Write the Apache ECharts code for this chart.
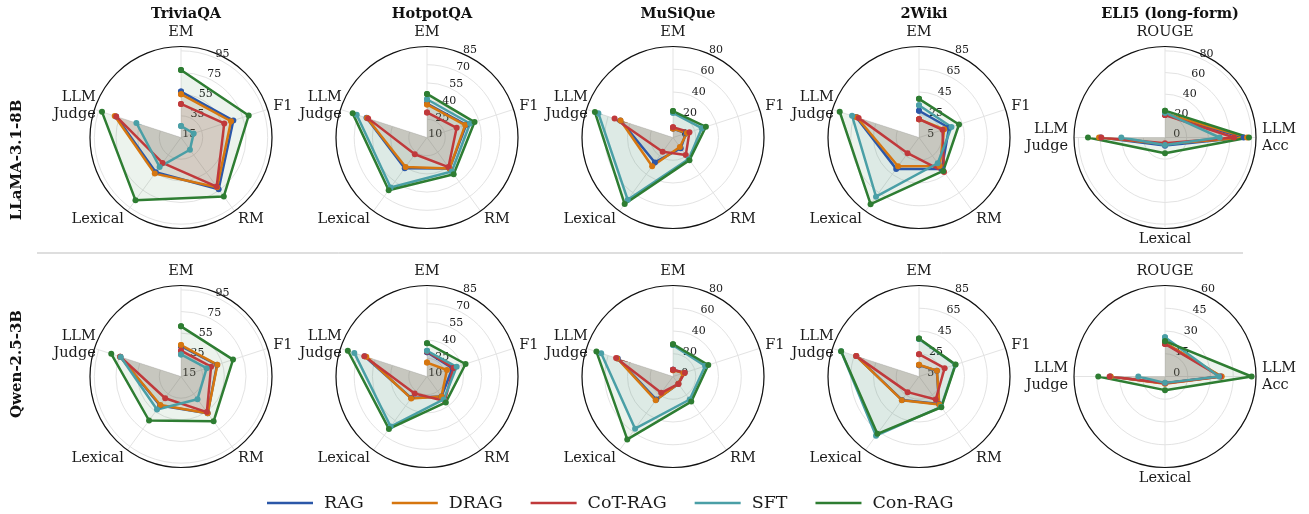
<!DOCTYPE html>
<html>
<head>
<meta charset="utf-8">
<script src="https://cdn.jsdelivr.net/npm/echarts@6/dist/echarts.min.js"></script>
<style>
  html, body { margin: 0; padding: 0; background: #fff; }
  #chart { width: 1309px; height: 514px; }
</style>
</head>
<body>
<div id="chart"></div>
<script>
var methods = ['RAG', 'DRAG', 'CoT-RAG', 'SFT', 'Con-RAG'];
var colors = ['#2b57a8', '#d6760f', '#c0393b', '#4a9fa6', '#2e7d32'];
var datasets = ['TriviaQA', 'HotpotQA', 'MuSiQue', '2Wiki', 'ELI5 (long-form)'];
var models = ['LLaMA-3.1-8B', 'Qwen-2.5-3B'];
var shortAxes = ['EM', 'F1', 'RM', 'Lexical', 'LLM\nJudge'];
var longAxes = ['ROUGE', 'LLM\nAcc', 'Lexical', 'LLM\nJudge'];

// radial scale per panel: [min, max, step]
var llamaRanges = [[15, 99, 20], [10, 85, 15], [0, 80, 20], [5, 85, 20], [0, 84, 20]];
var qwenRanges = [[15, 99, 20], [10, 85, 15], [0, 80, 20], [5, 85, 20], [0, 60, 15]];

// scores, one row per method (RAG, DRAG, CoT-RAG, SFT, Con-RAG)
// short-form axes: EM, F1, RM, Lexical, LLM Judge
var llamaTrivia = [
  [57.4, 65.8, 74.1, 54.6, 78.0],
  [55.0, 63.5, 71.7, 56.2, 79.3],
  [46.0, 57.0, 71.0, 44.0, 77.9],
  [25.6, 27.3, 29.0, 48.6, 58.3],
  [77.3, 80.7, 82.2, 86.5, 91.7]
];
var llamaHotpot = [
  [38.0, 44.0, 41.6, 41.2, 62.4],
  [37.3, 43.1, 41.6, 40.0, 62.0],
  [30.7, 35.7, 40.1, 27.1, 61.0],
  [41.5, 47.3, 44.7, 61.0, 70.9],
  [45.9, 51.2, 47.4, 63.7, 74.4]
];
var llamaMusique = [
  [7.9, 12.0, 11.6, 27.1, 48.7],
  [7.9, 12.8, 10.3, 31.2, 48.5],
  [9.1, 15.2, 19.1, 15.5, 54.0],
  [21.7, 26.6, 23.5, 67.7, 69.0],
  [23.2, 30.4, 24.6, 72.3, 72.2]
];
var llamaWiki = [
  [28.5, 32.8, 39.1, 39.1, 63.0],
  [21.1, 28.3, 36.0, 36.3, 62.5],
  [21.1, 26.8, 42.4, 22.1, 60.8],
  [33.4, 35.0, 33.0, 69.3, 66.9],
  [39.0, 42.0, 41.3, 77.4, 78.3]
];
// long-form axes: ROUGE, LLM Acc, Lexical, LLM Judge
var llamaEli5 = [
  [21.0, 72.6, 7.5, 59.4],
  [22.3, 75.7, 6.0, 60.9],
  [20.8, 63.7, 5.4, 58.8],
  [22.9, 50.5, 6.9, 40.3],
  [24.8, 77.5, 14.6, 71.1]
];
var qwenTrivia = [
  [43.0, 50.0, 56.9, 48.0, 74.0],
  [44.0, 50.3, 56.9, 47.5, 74.0],
  [38.8, 44.2, 55.6, 39.8, 74.0],
  [35.4, 39.9, 40.9, 52.7, 73.5],
  [61.3, 65.5, 66.2, 65.2, 82.7]
];
var qwenHotpot = [
  [30.0, 32.0, 30.3, 32.0, 64.0],
  [21.5, 27.3, 30.3, 32.3, 62.6],
  [30.6, 32.9, 35.0, 27.3, 64.3],
  [31.2, 35.7, 33.4, 61.0, 73.0],
  [37.5, 43.4, 36.4, 63.4, 78.6]
];
var qwenMusique = [
  [6.0, 10.0, 8.0, 25.0, 51.0],
  [5.6, 9.6, 8.0, 25.9, 51.5],
  [5.9, 10.9, 8.1, 17.7, 52.6],
  [27.6, 29.7, 25.0, 56.7, 66.4],
  [28.4, 32.6, 27.3, 68.4, 70.8]
];
var qwenWiki = [
  [15.0, 21.5, 35.0, 30.5, 63.0],
  [15.3, 21.6, 35.3, 30.7, 63.0],
  [24.6, 28.7, 30.0, 22.0, 63.0],
  [38.0, 38.5, 38.0, 69.3, 77.0],
  [38.4, 38.8, 38.4, 67.3, 77.0]
];
var qwenEli5 = [
  [22.0, 37.0, 4.5, 36.0],
  [22.2, 37.4, 4.8, 35.8],
  [21.5, 36.3, 4.4, 36.5],
  [25.9, 35.6, 4.2, 17.6],
  [23.3, 57.1, 9.0, 44.0]
];

var rows = [
  [llamaTrivia, llamaHotpot, llamaMusique, llamaWiki, llamaEli5],
  [qwenTrivia, qwenHotpot, qwenMusique, qwenWiki, qwenEli5]
];
var ranges = [llamaRanges, qwenRanges];

var colX = [181, 427, 673, 919, 1165];
var rowY = [137.5, 376.5];
var R = 91;
var labelOffset = 8.5;
var serif = '"DejaVu Serif", serif';
// nudges so the axis names sit centred on their anchor like matplotlib does
var shortPads = [[0, 0, 0, 0], [0, 0, -7, 0], [-5, 0, 0, 0], [-5, 0, 0, 0], [0, -7, -15, 0]];
var longPads = [[0, 0, 0, 0], [0, 0, 0, 0], [-4, 0, 0, 0], [0, 0, 0, 0]];

var chart = echarts.init(document.getElementById('chart'));

var polar = [], angleAxis = [], radiusAxis = [], series = [];

rows.forEach(function (panels, r) {
  panels.forEach(function (scores, c) {
    var rg = ranges[r][c];
    var names = c === 4 ? longAxes : shortAxes;
    var pads = c === 4 ? longPads : shortPads;
    var center = [colX[c], rowY[r]];
    var lastTick = rg[0] + Math.floor((rg[1] - rg[0]) / rg[2] + 1e-9) * rg[2];
    var dataIdx = polar.length;

    // polar holding the data, spokes, rings and axis names
    polar.push({ center: center, radius: R });
    angleAxis.push({
      polarIndex: dataIdx,
      type: 'category',
      data: names.map(function (n, j) { return { value: n, textStyle: { padding: pads[j] } }; }),
      boundaryGap: false,
      startAngle: 90,
      clockwise: true,
      axisLine: { show: false },
      axisTick: { show: false },
      splitLine: { show: true, lineStyle: { color: '#e3e3e3', width: 1 } },
      axisLabel: { margin: 6, fontFamily: serif, fontSize: 14.5, color: '#1a1a1a', lineHeight: 17 }
    });
    radiusAxis.push({
      polarIndex: dataIdx,
      type: 'value',
      min: rg[0],
      max: rg[1],
      interval: rg[2],
      axisLine: { show: false },
      axisTick: { show: false },
      axisLabel: { show: false },
      splitLine: { show: true, lineStyle: { color: '#e3e3e3', width: 1 } }
    });

    // polar for the radial tick labels at 22.5 deg, shifted outward a little
    polar.push({ center: center, radius: [labelOffset, labelOffset + R * (lastTick - rg[0]) / (rg[1] - rg[0])] });
    angleAxis.push({
      polarIndex: dataIdx + 1,
      type: 'value', min: 0, max: 360, startAngle: 67.5, show: false
    });
    radiusAxis.push({
      polarIndex: dataIdx + 1,
      type: 'value',
      min: rg[0],
      max: lastTick,
      interval: rg[2],
      axisLine: { show: false },
      axisTick: { show: false },
      splitLine: { show: false },
      axisLabel: { show: true, margin: -13, fontFamily: serif, fontSize: 11, color: '#1a1a1a' }
    });

    // polar only for the black outer circle
    polar.push({ center: center, radius: R });
    angleAxis.push({
      polarIndex: dataIdx + 2,
      type: 'value', min: 0, max: 360, startAngle: 90,
      axisLine: { show: true, lineStyle: { color: '#111', width: 1.2 } },
      axisTick: { show: false },
      axisLabel: { show: false },
      splitLine: { show: false }
    });
    radiusAxis.push({ polarIndex: dataIdx + 2, type: 'value', min: 0, max: 1, show: false });

    scores.forEach(function (vals, m) {
      var pts = vals.map(function (v, j) { return [v, j]; });
      pts.push([vals[0], 0]);
      series.push({
        name: methods[m],
        type: 'line',
        coordinateSystem: 'polar',
        polarIndex: dataIdx,
        data: pts,
        symbol: 'circle',
        symbolSize: 6,
        showSymbol: true,
        lineStyle: { width: 2.5, color: colors[m] },
        itemStyle: { color: colors[m] },
        areaStyle: { color: colors[m], opacity: 0.09 },
        emphasis: { disabled: true },
        z: 3
      });
    });
  });
});

var titles = datasets.map(function (d, i) {
  return {
    text: d,
    left: colX[i],
    top: 2,
    textAlign: 'center',
    textStyle: { fontFamily: serif, fontWeight: 'bold', fontSize: 14.5, color: '#111' }
  };
});

chart.setOption({
  backgroundColor: '#fff',
  animation: false,
  color: colors,
  title: titles,
  polar: polar,
  angleAxis: angleAxis,
  radiusAxis: radiusAxis,
  legend: {
    data: methods,
    top: 489,
    left: 262,
    icon: 'rect',
    itemWidth: 46,
    itemHeight: 2.5,
    itemGap: 28,
    textStyle: { fontFamily: serif, fontSize: 17.5, color: '#1a1a1a', padding: [0, 0, 0, 6] }
  },
  graphic: [
    {
      type: 'text', x: 17, y: 160, rotation: Math.PI / 2,
      style: { text: models[0], font: 'bold 15px "DejaVu Serif"', fill: '#111', align: 'center', verticalAlign: 'middle' }
    },
    {
      type: 'text', x: 17, y: 364, rotation: Math.PI / 2,
      style: { text: models[1], font: 'bold 15px "DejaVu Serif"', fill: '#111', align: 'center', verticalAlign: 'middle' }
    },
    {
      type: 'line', shape: { x1: 37, y1: 253, x2: 1243, y2: 253 },
      style: { stroke: '#bdbdbd', lineWidth: 1 }
    }
  ],
  series: series
});
</script>
</body>
</html>
